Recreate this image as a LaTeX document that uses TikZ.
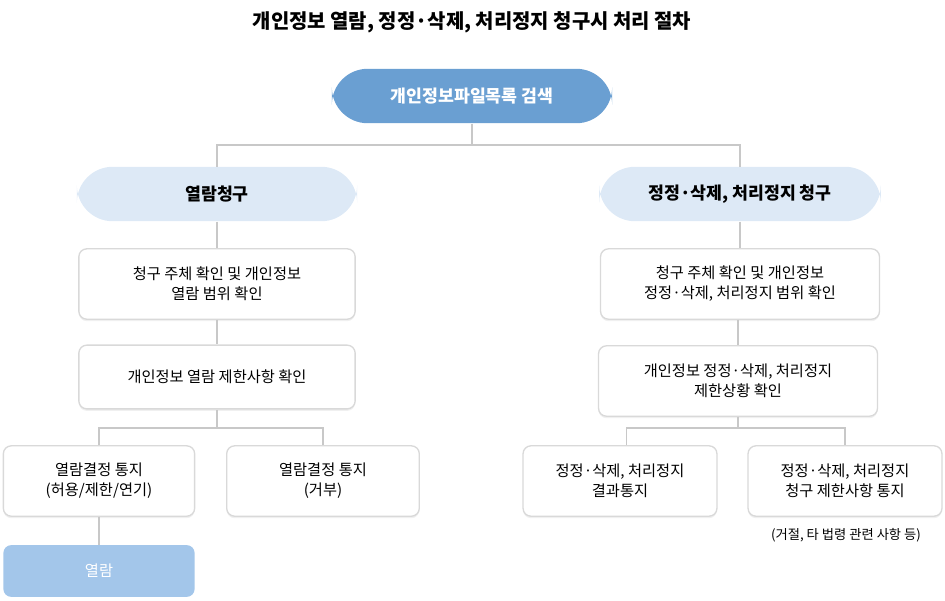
\documentclass[tikz,border=0pt]{standalone}
\usepackage{fontspec}
\setmainfont{Noto Sans CJK KR}
\usetikzlibrary{shadows}
\definecolor{topblue}{HTML}{6A9FD2}
\definecolor{hdrblue}{HTML}{DDE9F6}
\definecolor{lowblue}{HTML}{A3C6EA}
\definecolor{lnc}{HTML}{C8C8C8}
\tikzset{
  pill/.style={rounded corners=27pt, minimum height=41pt, align=center, font=\fontsize{13}{15}\selectfont\bfseries},
  wbox/.style={draw=lnc!70, fill=white, rounded corners=6pt, line width=1pt, align=center, font=\fontsize{11.5}{15}\selectfont, drop shadow={opacity=0.12, shadow xshift=0pt, shadow yshift=-1.5pt}},
  conn/.style={draw=lnc, line width=1pt}
}
\begin{document}
\begin{tikzpicture}[x=0.02646cm,y=-0.02646cm]
\useasboundingbox (0,0) rectangle (945,600);
\node (title) at (472,22) {\fontsize{15}{18}\selectfont\bfseries 개인정보 열람, 정정·삭제, 처리정지 청구시 처리 절차};
\node[pill, fill=topblue, text=white, minimum width=211pt] (top) at (472,96) {개인정보파일목록 검색};
\node[pill, fill=hdrblue, minimum width=211pt] (hl) at (217,194) {열람청구};
\node[pill, fill=hdrblue, minimum width=212pt] (hr) at (740,194) {정정·삭제, 처리정지 청구};
\node[wbox, minimum width=208pt, minimum height=53pt] (l1) at (217,284) {청구 주체 확인 및 개인정보\\열람 범위 확인};
\node[wbox, minimum width=208pt, minimum height=48pt] (l2) at (217,377) {개인정보 열람 제한사항 확인};
\node[wbox, minimum width=210pt, minimum height=53pt] (r1) at (740,284) {청구 주체 확인 및 개인정보\\정정·삭제, 처리정지 범위 확인};
\node[wbox, minimum width=210pt, minimum height=53pt] (r2) at (738,381) {개인정보 정정·삭제, 처리정지\\제한상황 확인};
\node[wbox, minimum width=144pt, minimum height=53pt] (a) at (99,481) {열람결정 통지\\(허용/제한/연기)};
\node[wbox, minimum width=145pt, minimum height=53pt] (b) at (323,481) {열람결정 통지\\(거부)};
\node[wbox, minimum width=146pt, minimum height=53pt] (c) at (620,481) {정정·삭제, 처리정지\\결과통지};
\node[wbox, minimum width=146pt, minimum height=53pt] (d) at (845,481) {정정·삭제, 처리정지\\청구 제한사항 통지};
\node[font=\fontsize{10}{12}\selectfont] (note) at (846,535) {(거절, 타 법령 관련 사항 등)};
\node[fill=lowblue, text=white, rounded corners=6pt, minimum width=144pt, minimum height=39pt, font=\fontsize{11.5}{14}\selectfont] (e) at (99,571) {열람};
\coordinate (j1) at (472,145);
\draw[conn] (top.south) -- (j1);
\draw[conn] (hl.north) |- (j1) -| (hr.north);
\draw[conn] (hl.south) -- (l1.north);
\draw[conn] (l1.south) -- (l2.north);
\draw[conn] (hr.south) -- (r1.north -| hr.south);
\draw[conn] (r1.south -| r2.north) -- (r2.north);
\coordinate (j2) at (217,428);
\draw[conn] (l2.south) -- (j2);
\draw[conn] (a.north) |- (j2) -| (b.north);
\coordinate (j3) at (738,428);
\draw[conn] (r2.south) -- (j3);
\draw[conn] ([xshift=5pt]c.north) |- (j3) -| (d.north);
\draw[conn] (a.south) -- (e.north);
\end{tikzpicture}
\end{document}
